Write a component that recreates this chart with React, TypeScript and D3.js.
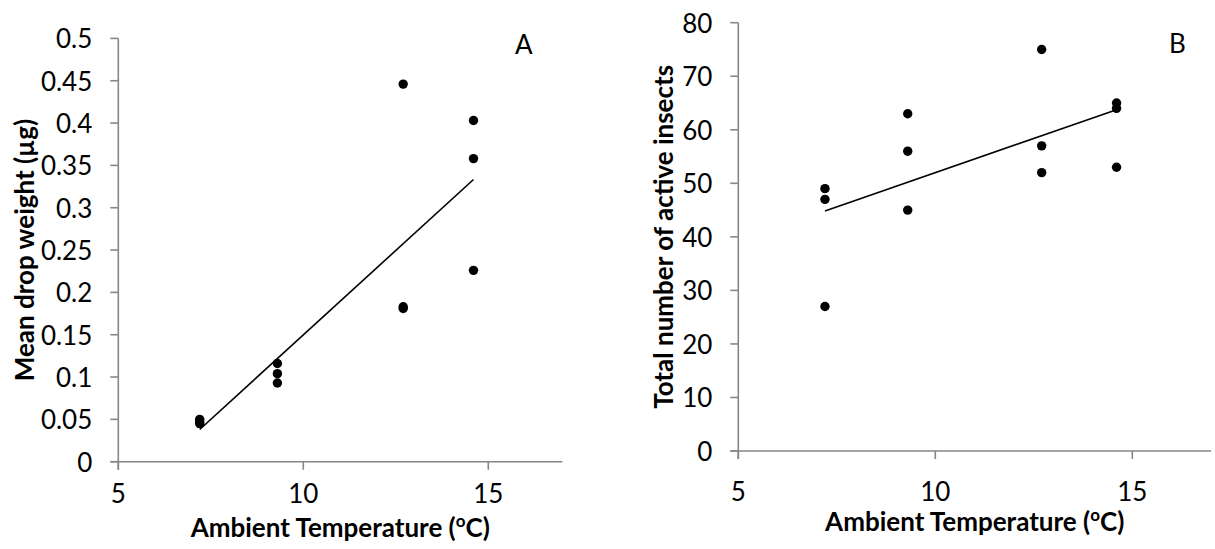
import React from "react";
import * as d3 from "d3";

// ---- data ----
const temperature = [7.2, 7.2, 7.2, 9.3, 9.3, 9.3, 12.7, 12.7, 12.7, 14.6, 14.6, 14.6];
const dropWeight = [0.05, 0.047, 0.045, 0.116, 0.104, 0.093, 0.446, 0.183, 0.181, 0.403, 0.358, 0.226];
const activeInsects = [49, 47, 27, 63, 56, 45, 75, 57, 52, 65, 64, 53];

const xTicks = [5, 10, 15];
const yTicksA = [0, 0.05, 0.1, 0.15, 0.2, 0.25, 0.3, 0.35, 0.4, 0.45, 0.5];
const yTicksB = [0, 10, 20, 30, 40, 50, 60, 70, 80];

const FONT = "Lato, 'Open Sans', sans-serif";
const AXIS = "#878787";

function fit(xs: number[], ys: number[]) {
  const mx = d3.mean(xs)!;
  const my = d3.mean(ys)!;
  let sxy = 0, sxx = 0;
  xs.forEach((x, i) => {
    sxy += (x - mx) * (ys[i] - my);
    sxx += (x - mx) * (x - mx);
  });
  const b = sxy / sxx;
  const a = my - b * mx;
  return (x: number) => a + b * x;
}

type PanelProps = {
  xs: number[];
  ys: number[];
  xRange: [number, number];
  yRange: [number, number];
  yMax: number;
  yTicks: number[];
  yTitle: string;
  letter: string;
  letterX: number;
  letterY: number;
  yTitleX: number;
  xLabelY: number;
  xTitleY: number;
};

function Panel(p: PanelProps) {
  const x = d3.scaleLinear().domain([5, 17]).range(p.xRange);
  const y = d3.scaleLinear().domain([0, p.yMax]).range(p.yRange);
  const f = fit(p.xs, p.ys);
  const [x0, x1] = d3.extent(p.xs) as [number, number];
  const line = d3.line<number>().x((d) => x(d)).y((d) => y(f(d)));
  const ax = x(5);
  const ay = y(0);
  const tick = 8;
  return (
    <g>
      {/* y axis */}
      <line x1={ax} x2={ax} y1={y(p.yMax)} y2={ay + tick} stroke={AXIS} strokeWidth={1.6} />
      {p.yTicks.map((t) => (
        <g key={"y" + t}>
          <line x1={ax - tick} x2={ax} y1={y(t)} y2={y(t)} stroke={AXIS} strokeWidth={1.6} />
          <text
            x={ax - 26}
            y={y(t)}
            textAnchor="end"
            dominantBaseline="central"
            fontFamily={FONT}
            fontSize={26}
            fill="#000"
          >
            {`${t}`}
          </text>
        </g>
      ))}
      {/* x axis */}
      <line x1={ax - tick} x2={x(17)} y1={ay} y2={ay} stroke={AXIS} strokeWidth={1.6} />
      {xTicks.map((t) => (
        <g key={"x" + t}>
          <line x1={x(t)} x2={x(t)} y1={ay} y2={ay + tick} stroke={AXIS} strokeWidth={1.6} />
          <text x={x(t)} y={p.xLabelY} textAnchor="middle" fontFamily={FONT} fontSize={26} fill="#000">
            {`${t}`}
          </text>
        </g>
      ))}
      {/* trend line */}
      <path d={line([x0, x1]) || ""} stroke="#000" strokeWidth={1.6} fill="none" />
      {/* points */}
      {p.xs.map((v, i) => (
        <circle key={i} cx={x(v)} cy={y(p.ys[i])} r={4.7} fill="#000" />
      ))}
      {/* titles */}
      <text
        x={(p.xRange[0] + p.xRange[1]) / 2}
        y={p.xTitleY}
        textAnchor="middle"
        fontFamily={FONT}
        fontWeight="bold"
        fontSize={26}
        fill="#000"
      >
        Ambient Temperature (<tspan fontSize={17} dy={-10}>o</tspan>
        <tspan dy={10}>C)</tspan>
      </text>
      <text
        transform={`translate(${p.yTitleX},${(p.yRange[0] + p.yRange[1]) / 2}) rotate(-90)`}
        textAnchor="middle"
        fontFamily={FONT}
        fontWeight="bold"
        fontSize={26}
        fill="#000"
      >
        {p.yTitle}
      </text>
      <text x={p.letterX} y={p.letterY} fontFamily={FONT} fontSize={26} fill="#000">
        {p.letter}
      </text>
    </g>
  );
}

export default function App() {
  return (
    <svg
      width={1215}
      height={549}
      style={{ position: "absolute", left: 0, top: 0, background: "#fff" }}
    >
      <rect width={1215} height={549} fill="#fff" />
      <Panel
        xs={temperature}
        ys={dropWeight}
        xRange={[118.3, 562.3]}
        yRange={[461.7, 38.4]}
        yMax={0.5}
        yTicks={yTicksA}
        yTitle="Mean drop weight (µg)"
        letter="A"
        letterX={515}
        letterY={54}
        yTitleX={34}
        xLabelY={503}
        xTitleY={537}
      />
      <Panel
        xs={temperature}
        ys={activeInsects}
        xRange={[738.3, 1211.1]}
        yRange={[451, 22.7]}
        yMax={80}
        yTicks={yTicksB}
        yTitle="Total number of active insects"
        letter="B"
        letterX={1169}
        letterY={53}
        yTitleX={673}
        xLabelY={501}
        xTitleY={531}
      />
    </svg>
  );
}
